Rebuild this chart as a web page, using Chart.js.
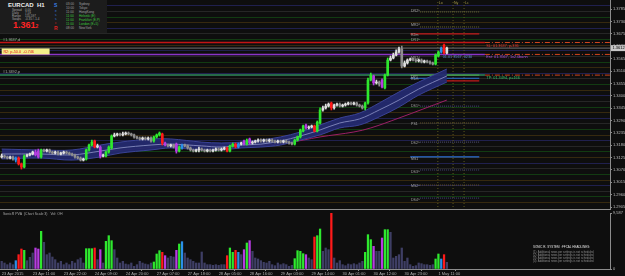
<!DOCTYPE html>
<html>
<head>
<meta charset="utf-8">
<script src="https://cdn.jsdelivr.net/npm/chart.js@4.4.1/dist/chart.umd.min.js"></script>
<style>
  html, body { margin: 0; padding: 0; background: #0e0e0e; }
  body { width: 625px; height: 276px; position: relative; overflow: hidden; font-family: "Liberation Sans", sans-serif; }
  canvas { position: absolute; left: 0; }
  #main { top: 0; }
  #vol { top: 210px; }
  #sep { position: absolute; left: 0; top: 209px; width: 611px; height: 1px; background: #8c8c8c; }
  #info { position: absolute; left: 0; top: 0; width: 107px; height: 33px; background: #1c1c1c; }
  #info div { position: absolute; white-space: nowrap; line-height: 1; }
  #info .k { left: 12px; font-size: 3px; color: #a8a8a8; }
  #info .v { left: 25px; font-size: 3px; color: #a8a8a8; }
  #info .t { left: 66px; font-size: 3.2px; color: #a0a0a0; }
  #info .n { left: 79px; font-size: 3.2px; color: #a0a0a0; }
  #info .on { color: #3cc83c; }
  #news { position: absolute; left: 533px; top: 246px; width: 78px; }
  #news div { white-space: nowrap; line-height: 3px; font-size: 2.8px; color: #8e8e8e; }
  #news .h { color: #e0e0e0; font-size: 3px; margin-bottom: 1.5px; }
</style>
</head>
<body>
<canvas id="main" width="625" height="210"></canvas>
<canvas id="vol" width="625" height="66"></canvas>
<div id="sep"></div>

<div id="info">
  <div style="left:8px;top:2px;font-size:6px;color:#ececec;font-weight:bold">EURCAD&nbsp;&nbsp;H1</div>
  <div class="k" style="top:9px">Spread</div><div class="v" style="top:9px">0.00</div>
  <div class="k" style="top:12px">Daily</div><div class="v" style="top:12px">7.59</div>
  <div class="k" style="top:15px">Range</div><div class="v" style="top:15px">155.597</div>
  <div class="k" style="top:18px">Swaps</div><div class="v" style="top:18px">-0.35 / -1.4</div>
  <div style="left:13px;top:21px;font-size:9px;color:#ff2424;font-weight:bold">1.361<span style="font-size:5px">2</span></div>
  <div style="left:54px;top:3px;font-size:5px;color:#3a7fe0;font-weight:bold">S</div>
  <div style="left:55px;top:10px;font-size:3px;color:#3a7fe0">e</div>
  <div style="left:55px;top:14px;font-size:3px;color:#3a7fe0">s</div>
  <div style="left:55px;top:18px;font-size:3px;color:#3a7fe0">s</div>
  <div style="left:55px;top:22px;font-size:3px;color:#e02020">c</div>
  <div style="left:54px;top:26px;font-size:5px;color:#e02020;font-weight:bold">R</div>
  <div class="t" style="top:3px">03:00</div><div class="n" style="top:3px">Sydney</div>
  <div class="t" style="top:7px">10:00</div><div class="n" style="top:7px">Tokyo</div>
  <div class="t" style="top:11px">11:00</div><div class="n" style="top:11px">HongKong</div>
  <div class="t on" style="top:15px">11:00</div><div class="n on" style="top:15px">Helsinki (E)</div>
  <div class="t on" style="top:19px">11:00</div><div class="n on" style="top:19px">Frankfurt (E,P)</div>
  <div class="t on" style="top:23px">11:00</div><div class="n on" style="top:23px">London (E+5)</div>
  <div class="t" style="top:27px">08:00</div><div class="n" style="top:27px">NewYork</div>
</div>

<div id="news">
  <div class="h">SONIC R. SYSTEM&nbsp;&nbsp;:FFCAL HEADLINES:</div>
  <div>(1)&nbsp; Additional news per settings is not scheduled</div>
  <div>(2)&nbsp; Additional news per settings is not scheduled</div>
  <div>(3)&nbsp; Additional news per settings is not scheduled</div>
  <div>(4)&nbsp; Additional news per settings is not scheduled</div>
</div>

<script>
// ---------- EURCAD H1 bars ----------
const opens = [1.3128,1.3132,1.3128,1.3123,1.3128,1.3114,1.3123,1.3097,1.3083,1.3132,
  1.3137,1.3141,1.3150,1.3154,1.3128,1.3159,1.3154,1.3159,1.3150,1.3145,
  1.3150,1.3141,1.3145,1.3150,1.3145,1.3141,1.3137,1.3128,1.3123,1.3114,
  1.3119,1.3159,1.3181,1.3199,1.3172,1.3172,1.3132,1.3132,1.3150,1.3168,
  1.3221,1.3226,1.3230,1.3226,1.3230,1.3234,1.3230,1.3226,1.3217,1.3212,
  1.3208,1.3212,1.3208,1.3212,1.3199,1.3217,1.3226,1.3230,1.3190,1.3181,
  1.3177,1.3181,1.3185,1.3154,1.3168,1.3181,1.3177,1.3168,1.3159,1.3154,
  1.3159,1.3163,1.3159,1.3154,1.3159,1.3154,1.3159,1.3163,1.3159,1.3163,
  1.3168,1.3154,1.3177,1.3185,1.3172,1.3185,1.3199,1.3185,1.3208,1.3190,
  1.3194,1.3199,1.3203,1.3199,1.3203,1.3199,1.3203,1.3199,1.3194,1.3199,
  1.3194,1.3199,1.3194,1.3190,1.3185,1.3203,1.3217,1.3243,1.3270,1.3257,
  1.3261,1.3266,1.3243,1.3279,1.3337,1.3346,1.3354,1.3368,1.3346,1.3359,
  1.3363,1.3354,1.3359,1.3363,1.3368,1.3363,1.3368,1.3359,1.3354,1.3346,
  1.3368,1.3470,1.3488,1.3457,1.3461,1.3470,1.3435,1.3492,1.3559,1.3568,
  1.3581,1.3595,1.3608,1.3532,1.3546,1.3559,1.3564,1.3559,1.3555,1.3559,
  1.3550,1.3555,1.3550,1.3546,1.3541,1.3577,1.3595,1.3626,1.3590];
const highs = [1.3141,1.3137,1.3132,1.3132,1.3132,1.3128,1.3128,1.3101,1.3137,1.3141,
  1.3145,1.3154,1.3159,1.3163,1.3163,1.3163,1.3163,1.3163,1.3154,1.3154,
  1.3154,1.3150,1.3154,1.3154,1.3150,1.3145,1.3141,1.3132,1.3128,1.3123,
  1.3163,1.3185,1.3203,1.3203,1.3185,1.3177,1.3141,1.3154,1.3177,1.3226,
  1.3234,1.3234,1.3234,1.3239,1.3239,1.3239,1.3234,1.3230,1.3221,1.3217,
  1.3217,1.3217,1.3217,1.3217,1.3221,1.3230,1.3239,1.3234,1.3194,1.3185,
  1.3185,1.3185,1.3190,1.3177,1.3185,1.3185,1.3181,1.3172,1.3163,1.3163,
  1.3172,1.3168,1.3163,1.3163,1.3163,1.3163,1.3168,1.3168,1.3168,1.3172,
  1.3172,1.3181,1.3190,1.3190,1.3190,1.3194,1.3203,1.3208,1.3212,1.3199,
  1.3203,1.3208,1.3208,1.3208,1.3208,1.3208,1.3208,1.3203,1.3203,1.3203,
  1.3203,1.3203,1.3199,1.3194,1.3208,1.3221,1.3252,1.3270,1.3274,1.3266,
  1.3270,1.3270,1.3288,1.3346,1.3354,1.3363,1.3368,1.3372,1.3363,1.3368,
  1.3368,1.3363,1.3368,1.3372,1.3372,1.3372,1.3372,1.3363,1.3359,1.3372,
  1.3479,1.3501,1.3492,1.3470,1.3466,1.3475,1.3497,1.3568,1.3577,1.3590,
  1.3604,1.3617,1.3621,1.3555,1.3564,1.3568,1.3568,1.3564,1.3564,1.3564,
  1.3559,1.3559,1.3555,1.3550,1.3586,1.3599,1.3617,1.3630,1.3617];
const lows = [1.3123,1.3123,1.3119,1.3119,1.3114,1.3105,1.3092,1.3074,1.3079,1.3128,
  1.3132,1.3137,1.3132,1.3123,1.3123,1.3150,1.3150,1.3145,1.3141,1.3141,
  1.3137,1.3137,1.3141,1.3141,1.3137,1.3132,1.3123,1.3119,1.3110,1.3110,
  1.3114,1.3154,1.3177,1.3168,1.3168,1.3123,1.3128,1.3128,1.3145,1.3163,
  1.3217,1.3221,1.3221,1.3221,1.3226,1.3226,1.3221,1.3212,1.3208,1.3203,
  1.3203,1.3203,1.3203,1.3194,1.3194,1.3212,1.3221,1.3181,1.3177,1.3172,
  1.3172,1.3168,1.3145,1.3150,1.3163,1.3172,1.3163,1.3154,1.3150,1.3150,
  1.3150,1.3154,1.3150,1.3150,1.3150,1.3150,1.3154,1.3154,1.3154,1.3159,
  1.3150,1.3150,1.3172,1.3168,1.3168,1.3181,1.3181,1.3181,1.3185,1.3185,
  1.3190,1.3194,1.3194,1.3194,1.3194,1.3194,1.3194,1.3190,1.3190,1.3190,
  1.3190,1.3190,1.3185,1.3181,1.3181,1.3199,1.3212,1.3239,1.3252,1.3252,
  1.3257,1.3239,1.3239,1.3274,1.3332,1.3341,1.3350,1.3337,1.3341,1.3354,
  1.3350,1.3350,1.3354,1.3359,1.3359,1.3359,1.3354,1.3350,1.3341,1.3337,
  1.3363,1.3466,1.3448,1.3452,1.3443,1.3435,1.3430,1.3488,1.3555,1.3564,
  1.3577,1.3590,1.3524,1.3528,1.3541,1.3555,1.3555,1.3550,1.3550,1.3546,
  1.3546,1.3546,1.3541,1.3537,1.3537,1.3572,1.3590,1.3586,1.3586];
const closes = [1.3132,1.3128,1.3123,1.3128,1.3119,1.3123,1.3097,1.3083,1.3132,1.3137,
  1.3141,1.3150,1.3137,1.3128,1.3159,1.3154,1.3159,1.3150,1.3145,1.3150,
  1.3141,1.3145,1.3150,1.3145,1.3141,1.3137,1.3128,1.3123,1.3114,1.3119,
  1.3159,1.3181,1.3194,1.3172,1.3177,1.3132,1.3137,1.3150,1.3172,1.3221,
  1.3226,1.3230,1.3226,1.3230,1.3234,1.3230,1.3226,1.3217,1.3212,1.3208,
  1.3212,1.3208,1.3212,1.3199,1.3217,1.3226,1.3234,1.3190,1.3181,1.3177,
  1.3181,1.3172,1.3154,1.3172,1.3181,1.3177,1.3168,1.3159,1.3154,1.3159,
  1.3163,1.3159,1.3154,1.3159,1.3154,1.3159,1.3163,1.3159,1.3163,1.3168,
  1.3154,1.3177,1.3185,1.3172,1.3185,1.3190,1.3185,1.3203,1.3190,1.3194,
  1.3199,1.3203,1.3199,1.3203,1.3199,1.3203,1.3199,1.3194,1.3199,1.3194,
  1.3199,1.3194,1.3190,1.3185,1.3203,1.3217,1.3248,1.3266,1.3257,1.3261,
  1.3266,1.3243,1.3283,1.3337,1.3346,1.3354,1.3363,1.3346,1.3359,1.3363,
  1.3354,1.3359,1.3363,1.3368,1.3363,1.3368,1.3359,1.3354,1.3346,1.3368,
  1.3470,1.3492,1.3457,1.3461,1.3452,1.3439,1.3492,1.3559,1.3568,1.3581,
  1.3595,1.3608,1.3532,1.3546,1.3559,1.3564,1.3559,1.3555,1.3559,1.3550,
  1.3555,1.3550,1.3546,1.3541,1.3581,1.3595,1.3612,1.3590,1.3612];
// PVA class per bar: 0 normal, 1 bull climax, 2 bear climax, 3 bull rising, 4 bear rising
const pva = [0,0,0,0,0,3,2,2,1,0, 0,0,4,4,1,0,0,0,0,0, 0,0,0,0,0,0,0,0,0,0,
  1,1,1,2,0,4,0,1,1,1, 0,0,0,0,0,0,0,0,0,0, 0,0,0,0,1,1,1,2,4,0,
  0,0,4,1,3,0,0,0,0,0, 0,0,0,0,0,0,0,0,0,0, 2,1,1,2,3,0,4,1,4,0,
  0,0,0,0,0,0,0,0,0,0, 0,0,0,0,1,1,1,1,4,0, 0,2,1,1,0,0,0,2,0,0,
  0,0,0,0,0,0,0,0,0,1, 1,1,4,0,0,4,1,1,0,0, 0,0,0,0,0,0,0,0,0,0,
  0,0,0,0,1,1,3,2,0];
const volumes = [1313,1027,742,1027,742,1427,2454,3424,3196,1427,
  1997,2739,3595,3424,6449,4565,2454,2739,2054,1598,
  1027,1313,742,1027,742,1313,1027,1598,1883,1027,
  3481,3481,3481,3595,1598,3310,1027,4737,5706,4851,
  3310,1883,1027,1313,856,742,1027,456,742,1313,
  1027,856,742,1027,1198,2568,3139,2853,2283,1883,
  2168,2054,3196,4280,4679,2739,1883,1598,1313,1027,
  1027,2910,1027,742,742,628,742,628,742,742,
  2283,3595,2853,3196,2853,2454,3310,4451,4851,3025,
  1883,1712,1427,1141,1027,1313,742,571,1027,742,
  913,742,456,628,1769,3139,3025,2625,2454,1883,
  1598,5478,5706,6848,3025,3595,3310,9587,1883,1027,
  1427,742,571,856,742,913,742,1027,1313,2853,
  5878,5021,3881,3025,3025,5307,6734,6734,6278,1883,
  2168,2454,3595,1313,1883,742,456,571,1027,913,
  742,742,628,742,1712,2568,1712,2454,1141];

// dragon band (EMA34 high / close / low) and EMA89, read at a few bars
const bandBars  = [0,14,25,35,42,53,60,71,78,85,92,99,106,113,120,127,134,141,148,158];
const bandUpper = [1.3163,1.3159,1.3159,1.3181,1.3194,1.3208,1.3208,1.3194,1.3190,1.3194,1.3203,1.3217,1.3239,1.3270,1.3301,1.3323,1.3368,1.3417,1.3461,1.3519];
const bandMid   = [1.3141,1.3141,1.3137,1.3154,1.3168,1.3181,1.3185,1.3177,1.3172,1.3181,1.3185,1.3199,1.3221,1.3248,1.3279,1.3297,1.3337,1.3381,1.3430,1.3488];
const bandLower = [1.3119,1.3123,1.3114,1.3128,1.3145,1.3159,1.3168,1.3159,1.3159,1.3168,1.3172,1.3181,1.3203,1.3226,1.3257,1.3270,1.3306,1.3350,1.3403,1.3461];
const ema89Bars = [0,25,47,59,78,89,101,113,125,131,141,158];
const ema89     = [1.3150,1.3145,1.3163,1.3177,1.3177,1.3177,1.3190,1.3217,1.3239,1.3257,1.3301,1.3381];

// axes
const priceTicks = [1.2905,1.2960,1.3015,1.3070,1.3125,1.3180,1.3235,1.3290,1.3345,1.3400,1.3455,1.3510,1.3565,1.3620,1.3675,1.3730,1.3785];
const volTicks = [0, 9587];
const timeLabelBars = [0,11,22,33,44,55,66,77,88,99,110,121,132,143,155];
const timeLabels = ["23 Apr 2015","23 Apr 11:00","23 Apr 22:00","24 Apr 09:00","24 Apr 20:00",
  "27 Apr 07:00","27 Apr 18:00","28 Apr 05:00","28 Apr 16:00","29 Apr 03:00",
  "29 Apr 14:00","30 Apr 01:00","30 Apr 12:00","30 Apr 23:00","1 May 11:00"];

// levels and trade lines
const resLevel = 1.3637, entLevel = 1.3584, tpLevel = 1.3492, bidLevel = 1.3612;
const tradeFromBar = 171.5;
const pivotSolid = [1.3675, 1.3492, 1.3478, 1.3128];
const pivotSolidColors = ['#c41a1a', '#a8d030', '#2a6fd8', '#2a6fd8'];
const pivotRedShort = 1.3466;
const pivotDots = [1.3773, 1.3706, 1.3354, 1.3279, 1.3194, 1.3070, 1.3003, 1.2945];
const pivotDotColors = ['#666630', '#666630', '#44447a', '#64522a', '#545478', '#44447a', '#64522a', '#44447a'];
const pivotNames = ['DR2^','MR2^','R2m','DR1^','MR1^','DP1','R1m','DS1^','PS1','DS2^','MS1','DS3^','MS2^','DS4^'];
const pivotNamePrices = [1.3777,1.3715,1.3670,1.3648,1.3568,1.3484,1.3475,1.3354,1.3274,1.3190,1.3119,1.3061,1.2999,1.2936];
const sessionBars = [154.8, 160.2, 164.1];
const sessionNames = ['Lo', 'Ny', 'Lc'];

const X_MIN = -0.6, X_MAX = 215.9;
const P_MIN = 1.2892, P_MAX = 1.3826;

const pvaColors = ['', '#2ee82e', '#ff1a1a', '#2a8fe8', '#b63ce0'];
function candleColor(i) {
  if (pva[i]) return pvaColors[pva[i]];
  return closes[i] >= opens[i] ? '#dedede' : '#8e8e8e';
}
function volColor(i) {
  return pva[i] ? pvaColors[pva[i]] : '#3e3e64';
}
function quarterColor(v) {
  const r = Math.round(v * 10000) % 100;
  if (r === 0) return '#20204e';
  if (r === 50) return '#123b12';
  if (r === 25) return '#36290f';
  if (r === 75) return '#262626';
  return 'rgba(0,0,0,0)';
}
const pts = (xs, ys) => xs.map((b, k) => ({ x: b, y: ys[k] }));
function hline(price, from, to, color, width, dash) {
  return {
    type: 'line', data: [{ x: from, y: price }, { x: to, y: price }],
    borderColor: color, borderWidth: width, borderDash: dash || [],
    pointRadius: 0, fill: false, order: 6
  };
}

const datasets = [
  {
    type: 'bar', label: 'body', order: 0, grouped: false,
    data: closes.map((c, i) => ({ x: i, y: [opens[i], c] })),
    backgroundColor: c => candleColor(c.dataIndex),
    barThickness: 2, minBarLength: 1, borderWidth: 0
  },
  {
    type: 'bar', label: 'wick', order: 1, grouped: false,
    data: closes.map((c, i) => ({ x: i, y: [lows[i], highs[i]] })),
    backgroundColor: c => candleColor(c.dataIndex),
    barThickness: 1, borderWidth: 0
  },
  { type: 'line', label: 'up', order: 3, data: pts(bandBars, bandUpper), borderColor: '#3a4296', borderWidth: 1, pointRadius: 0, tension: 0.35, fill: false },
  { type: 'line', label: 'mid', order: 3, data: pts(bandBars, bandMid), borderColor: '#7a80b6', borderWidth: 1, pointRadius: 0, tension: 0.35, fill: false },
  { type: 'line', label: 'lo', order: 3, data: pts(bandBars, bandLower), borderColor: '#3a4296', borderWidth: 1, pointRadius: 0, tension: 0.35,
    fill: '-2', backgroundColor: 'rgba(36,42,112,0.95)' },
  { type: 'line', label: 'ema89', order: 4, data: pts(ema89Bars, ema89), borderColor: '#9c1f66', borderWidth: 1, pointRadius: 0, tension: 0.35, fill: false },
  hline(resLevel, X_MIN, tradeFromBar, '#c21414', 1.5),
  hline(entLevel, X_MIN, tradeFromBar, '#8a34c8', 1.5),
  hline(tpLevel, X_MIN, tradeFromBar, '#2f8a5c', 1.5),
  hline(bidLevel, X_MIN, X_MAX, '#707070', 1),
  hline(resLevel, tradeFromBar, X_MAX, '#d2461e', 1, [5, 2, 1, 2]),
  hline(entLevel, tradeFromBar, X_MAX, '#d2461e', 1, [5, 2, 1, 2]),
  hline(tpLevel, tradeFromBar, X_MAX, '#d2461e', 1, [5, 2, 1, 2]),
  ...pivotSolid.map((p, k) => hline(p, 145, 169.5, pivotSolidColors[k], 1.2)),
  hline(pivotRedShort, 155, 169.5, '#c41a1a', 1.2),
  ...pivotDots.map((p, k) => hline(p, 148.5, 169.5, pivotDotColors[k], 1, [1, 1])),
  ...sessionBars.map(b => ({
    type: 'line', data: [{ x: b, y: P_MIN }, { x: b, y: P_MAX }], borderColor: '#5e5a1e',
    borderWidth: 1, borderDash: [1, 2], pointRadius: 0, fill: false, order: 7
  }))
];

const mainText = {
  id: 'mainText',
  afterDraw(chart) {
    const { ctx, chartArea } = chart;
    const xs = chart.scales.x, ys = chart.scales.y;
    const px = b => xs.getPixelForValue(b), py = p => ys.getPixelForValue(p);
    ctx.save();
    ctx.textBaseline = 'middle';
    ctx.font = '3.5px "Liberation Sans"';
    ctx.fillStyle = '#a6a6a6';
    pivotNames.forEach((n, k) => ctx.fillText(n, px(145.3), py(pivotNamePrices[k])));
    ctx.fillStyle = '#a89c48';
    sessionNames.forEach((n, k) => ctx.fillText(n, px(sessionBars[k]) + 1, chartArea.top + 3));
    // trade labels
    ctx.font = '3.8px "Liberation Sans"';
    ctx.fillStyle = '#e23a3a';
    ctx.fillText('SL: 01.3637, p-336', px(172), py(resLevel) + 3);
    ctx.fillStyle = '#b454e6';
    ctx.fillText('Ent: 01.3567, 1x2.0bann', px(172), py(entLevel) + 3);
    ctx.fillStyle = '#5a8fd0';
    ctx.fillText('01.01 3567, 0230', px(156.5), py(entLevel) + 3);
    ctx.fillStyle = '#36c46a';
    ctx.fillText('TP: 01.3494, p=166', px(172), py(tpLevel) + 3);
    // left level tags
    ctx.fillStyle = '#a8a8a8';
    ctx.fillText('#1.3637,d', px(0.5), py(resLevel) - 3);
    ctx.fillText('#1.3492,p', px(0.5), py(tpLevel) - 3);
    const yb = py(1.3597);
    ctx.fillStyle = '#f4f08a';
    ctx.fillRect(px(0), yb - 3, px(17) - px(0), 6);
    ctx.fillStyle = '#e01818';
    ctx.fillText('R2: p-50.0  -0.746', px(0.6), yb);
    // bid tag on the price axis
    const yt = py(bidLevel);
    ctx.fillStyle = '#c8c8c8';
    ctx.fillRect(chartArea.right + 1, yt - 3, 14, 6);
    ctx.fillStyle = '#000';
    ctx.font = '4px "Liberation Sans"';
    ctx.fillText(bidLevel.toFixed(4), chartArea.right + 2.5, yt);
    ctx.restore();
  }
};

new Chart(document.getElementById('main'), {
  type: 'bar',
  data: { datasets },
  options: {
    responsive: false, animation: false, devicePixelRatio: 1,
    layout: { padding: 0 },
    plugins: { legend: { display: false }, tooltip: { enabled: false } },
    scales: {
      x: { type: 'linear', min: X_MIN, max: X_MAX, display: false, offset: false },
      yq: {
        type: 'linear', position: 'right', min: P_MIN, max: P_MAX,
        ticks: { display: false, stepSize: 0.0025 },
        grid: { color: c => quarterColor(c.tick.value), drawTicks: false },
        border: { display: false },
        afterFit: s => { s.width = 0; s.paddingTop = 0; s.paddingBottom = 0; }
      },
      y: {
        type: 'linear', position: 'right', min: P_MIN, max: P_MAX,
        afterBuildTicks: s => { s.ticks = priceTicks.map(v => ({ value: v })); },
        ticks: { font: { size: 4, family: 'Liberation Sans' }, color: '#bcbcbc', padding: 1, callback: v => v.toFixed(4) },
        grid: { drawOnChartArea: false, tickLength: 2, color: '#8c8c8c' },
        border: { color: '#8c8c8c' },
        afterFit: s => { s.width = 15; s.paddingTop = 0; s.paddingBottom = 0; }
      }
    }
  },
  plugins: [mainText]
});

const volText = {
  id: 'volText',
  afterDraw(chart) {
    const { ctx, chartArea } = chart;
    ctx.save();
    ctx.font = '3.5px "Liberation Sans"';
    ctx.textBaseline = 'middle';
    ctx.fillStyle = '#a8a8a8';
    ctx.fillText('SonicR PVA  (Chart Scale 3)   Vol: OH', 3, chartArea.top + 1);
    ctx.restore();
  }
};

new Chart(document.getElementById('vol'), {
  type: 'bar',
  data: {
    datasets: [{
      data: volumes.map((v, i) => ({ x: i, y: v })),
      backgroundColor: c => volColor(c.dataIndex),
      barThickness: 1.6, borderWidth: 0
    }]
  },
  options: {
    responsive: false, animation: false, devicePixelRatio: 1,
    layout: { padding: { top: 3 } },
    plugins: { legend: { display: false }, tooltip: { enabled: false } },
    scales: {
      x: {
        type: 'linear', min: X_MIN, max: X_MAX, offset: false,
        afterBuildTicks: s => { s.ticks = timeLabelBars.map(v => ({ value: v })); },
        ticks: {
          autoSkip: false, maxRotation: 0, align: 'start', padding: 0,
          font: { size: 4, family: 'Liberation Sans' }, color: '#b0b0b0',
          callback: v => timeLabels[timeLabelBars.indexOf(v)]
        },
        grid: { drawOnChartArea: false, tickLength: 2, color: '#8c8c8c' },
        border: { color: '#8c8c8c' },
        afterFit: s => { s.height = 7; s.paddingLeft = 0; s.paddingRight = 0; }
      },
      y: {
        type: 'linear', position: 'right', min: 0, max: 9587,
        afterBuildTicks: s => { s.ticks = volTicks.map(v => ({ value: v })); },
        ticks: { font: { size: 4, family: 'Liberation Sans' }, color: '#bcbcbc', padding: 1 },
        grid: { drawOnChartArea: false, tickLength: 2, color: '#8c8c8c' },
        border: { color: '#8c8c8c' },
        afterFit: s => { s.width = 15; s.paddingTop = 0; s.paddingBottom = 0; }
      }
    }
  },
  plugins: [volText]
});
</script>
</body>
</html>
